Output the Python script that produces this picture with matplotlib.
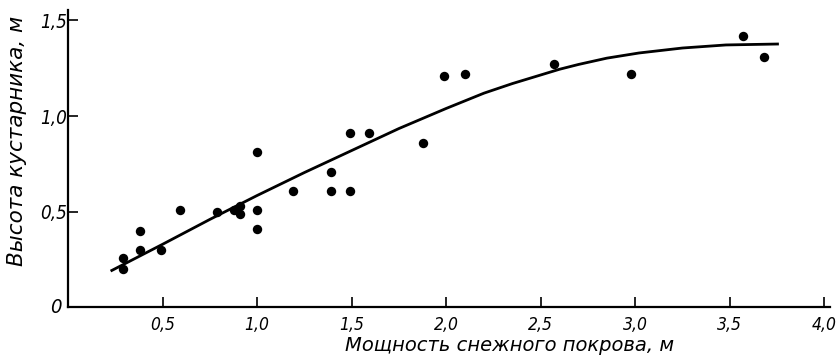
import matplotlib
matplotlib.use("Agg")
import matplotlib.pyplot as plt

# Observed points: snow depth (m) vs shrub height (m)
snow_depth = [0.29, 0.29, 0.38, 0.38, 0.49, 0.59, 0.79, 0.88, 0.91, 0.91, 1.0, 1.0, 1.0,
              1.19, 1.39, 1.39, 1.49, 1.49, 1.59, 1.88, 1.99, 2.10, 2.57, 2.98, 3.57, 3.68]
shrub_height = [0.26, 0.20, 0.40, 0.30, 0.30, 0.51, 0.50, 0.51, 0.53, 0.49, 0.51, 0.41, 0.81,
                0.61, 0.71, 0.61, 0.91, 0.61, 0.91, 0.86, 1.21, 1.22, 1.27, 1.22, 1.42, 1.31]

# Fitted curve
curve_x = [0.225, 0.5, 0.75, 1.0, 1.25, 1.5, 1.75, 2.0, 2.2, 2.35, 2.5, 2.6, 2.7, 2.85,
           3.02, 3.25, 3.48, 3.76]
curve_y = [0.19, 0.33, 0.46, 0.585, 0.705, 0.82, 0.935, 1.04, 1.12, 1.17, 1.215, 1.245, 1.27,
           1.303, 1.33, 1.356, 1.372, 1.377]

x_ticks = [0.5, 1.0, 1.5, 2.0, 2.5, 3.0, 3.5, 4.0]
x_tick_labels = ["0,5", "1,0", "1,5", "2,0", "2,5", "3,0", "3,5", "4,0"]
y_ticks = [0.5, 1.0, 1.5]
y_tick_labels = ["0,5", "1,0", "1,5"]

fig = plt.figure(figsize=(8.4, 3.55), dpi=100)
ax = fig.add_axes([0.081, 0.134, 0.907, 0.838])
ax.set_xlim(0, 4.03)
ax.set_ylim(0, 1.555)

ax.plot(curve_x, curve_y, color="black", lw=2.0, solid_capstyle="butt",
        solid_joinstyle="round")
ax.scatter(snow_depth, shrub_height, s=46, color="black", zorder=3, linewidths=0)

for s in ["top", "right"]:
    ax.spines[s].set_visible(False)
for s in ["left", "bottom"]:
    ax.spines[s].set_linewidth(1.6)

font_c = dict(family="DejaVu Sans", style="italic", stretch="condensed")
font_n = dict(family="DejaVu Sans", style="italic")
ax.set_xticks(x_ticks)
ax.set_xticklabels(x_tick_labels, fontsize=12.5, **font_c)
ax.set_yticks(y_ticks)
ax.set_yticklabels(y_tick_labels, fontsize=13.5, **font_c)
ax.tick_params(axis="x", direction="in", length=7, width=1.2, pad=6)
ax.tick_params(axis="y", direction="in", length=7, width=1.2, pad=1)

ax.text(-0.035, 0.0, "0", ha="right", va="center", fontsize=14.5, **font_c)

ax.set_xlabel("Мощность снежного покрова, м", fontsize=14, **font_n)
ax.xaxis.label.set_va("baseline")
ax.xaxis.set_label_coords(0.58, -0.145)
ax.set_ylabel("Высота кустарника, м", fontsize=15.5, **font_n)
ax.yaxis.set_label_coords(-0.054, 0.56)

fig.savefig("out.png", dpi=100)
